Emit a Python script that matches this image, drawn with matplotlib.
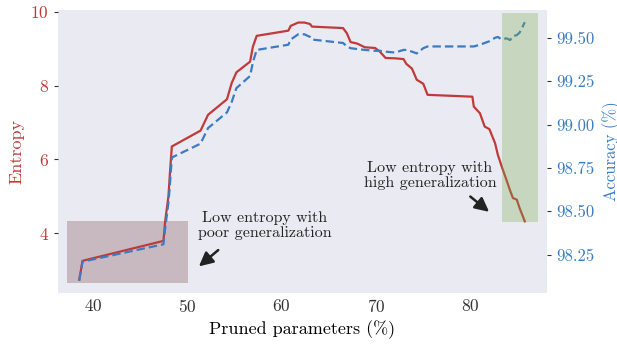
import matplotlib
matplotlib.use("Agg")
import matplotlib.pyplot as plt
from matplotlib.patches import Rectangle
from matplotlib.ticker import FixedLocator, FormatStrFormatter

plt.rcParams["font.family"] = "cmr10"
plt.rcParams["mathtext.fontset"] = "cm"
plt.rcParams["axes.formatter.use_mathtext"] = True

# pruning steps (% of parameters removed)
pruned = [38.55, 38.9, 47.47, 47.65, 48.0, 48.15, 48.36, 51.4, 52.2, 54.2,
          54.7, 55.2, 56.65, 56.95, 57.35, 60.7, 60.95, 61.75, 62.4, 63.0,
          63.2, 66.5, 66.9, 67.3, 68.0, 68.8, 69.9, 70.4, 71.0, 72.0,
          72.9, 73.2, 73.8, 74.3, 75.0, 75.45, 80.2, 80.35, 81.0, 81.5,
          82.0, 82.6, 82.9, 83.3, 83.8, 84.2, 84.5, 84.9, 85.2, 85.4, 85.75]

entropy = [2.74, 3.25, 3.79, 4.32, 5.0, 5.6, 6.35, 6.78, 7.21, 7.63,
           8.07, 8.36, 8.65, 9.06, 9.35, 9.49, 9.62, 9.71, 9.71, 9.67,
           9.60, 9.56, 9.42, 9.18, 9.14, 9.04, 9.02, 8.92, 8.75, 8.74,
           8.72, 8.59, 8.46, 8.16, 8.05, 7.75, 7.70, 7.43, 7.25, 6.89,
           6.82, 6.44, 6.12, 5.81, 5.45, 5.15, 4.95, 4.91, 4.68, 4.55, 4.32]

accuracy = [98.10, 98.21, 98.31, 98.40, 98.55, 98.65, 98.81, 98.89, 98.98, 99.07,
            99.13, 99.21, 99.28, 99.36, 99.43, 99.46, 99.49, 99.52, 99.52, 99.505,
            99.49, 99.47, 99.45, 99.44, 99.435, 99.43, 99.425, 99.425, 99.42, 99.415,
            99.43, 99.43, 99.42, 99.41, 99.44, 99.45, 99.45, 99.45, 99.46, 99.47,
            99.48, 99.50, 99.505, 99.49, 99.497, 99.487, 99.51, 99.515, 99.53, 99.55, 99.59]

# highlighted regions: (x0, x1, entropy0, entropy1)
poor_region = (37.3, 50.05, 2.64, 4.33)
good_region = (83.3, 87.2, 4.30, 9.97)

acc_ticks = [98.25, 98.50, 98.75, 99.00, 99.25, 99.50]
ent_ticks = [4, 6, 8, 10]

red = "#c03a3a"
blue = "#3a7cc2"

fig, ax = plt.subplots(figsize=(6.17, 3.45), dpi=100)
fig.subplots_adjust(left=0.094, right=0.8865, top=0.971, bottom=0.151)
ax.set_facecolor("#eaeaf2")
for s in ax.spines.values():
    s.set_visible(False)

x0, x1, y0, y1 = poor_region
ax.add_patch(Rectangle((x0, y0), x1 - x0, y1 - y0, facecolor="#c8b9c1",
                       edgecolor="none", zorder=1))

ax.plot(pruned, entropy, color=red, lw=1.6, zorder=3)
ax.set_ylabel("Entropy", color=red, fontsize=13)
ax.set_xlabel("Pruned parameters (%)", fontsize=13)
ax.yaxis.set_major_locator(FixedLocator(ent_ticks))
ax.tick_params(axis="y", colors=red, labelsize=12.5, length=3, width=0.8)
ax.tick_params(axis="y", color="#333333")
ax.tick_params(axis="x", labelsize=12.5, length=0, colors="#333333")
ax.set_xticks([40, 50, 60, 70, 80])

ax2 = ax.twinx()
for s in ax2.spines.values():
    s.set_visible(False)
ax2.plot(pruned, accuracy, color=blue, lw=1.6, ls="--", dashes=(3.8, 1.8),
         zorder=3)
ax2.set_ylabel("Accuracy (%)", color=blue, fontsize=12)
ax2.yaxis.set_label_coords(1.113, 0.5)
ax2.yaxis.set_major_locator(FixedLocator(acc_ticks))
ax2.yaxis.set_major_formatter(FormatStrFormatter("%.2f"))
ax2.tick_params(axis="y", labelcolor=blue, color="#333333", labelsize=12,
                length=3, width=0.8)

ax.set_xlim(36.3, 88.1)
ax.set_ylim(2.38, 10.05)
ax2.set_ylim(98.03, 99.66)

# green band drawn on top so the lines show through it
x0, x1, y0, y1 = good_region
ax2.add_patch(Rectangle((x0, y0), x1 - x0, y1 - y0, facecolor="#79ae4b",
                        alpha=0.3, edgecolor="none", zorder=4,
                        transform=ax.transData))

ax.text(58.2, 4.2, "Low entropy with\npoor generalization", ha="center",
        va="center", fontsize=11.5, color="#222222", linespacing=1.1)
ax.annotate("", xy=(51.0, 3.05), xytext=(53.5, 3.59),
            arrowprops=dict(arrowstyle="-|>", color="#222222", lw=1.8,
                            mutation_scale=21))
ax.text(75.7, 5.56, "Low entropy with\nhigh generalization", ha="center",
        va="center", fontsize=11.5, color="#222222", linespacing=1.1)
ax.annotate("", xy=(82.2, 4.53), xytext=(79.75, 5.04),
            arrowprops=dict(arrowstyle="-|>", color="#222222", lw=1.8,
                            mutation_scale=21))

fig.savefig("out.png", dpi=100)
